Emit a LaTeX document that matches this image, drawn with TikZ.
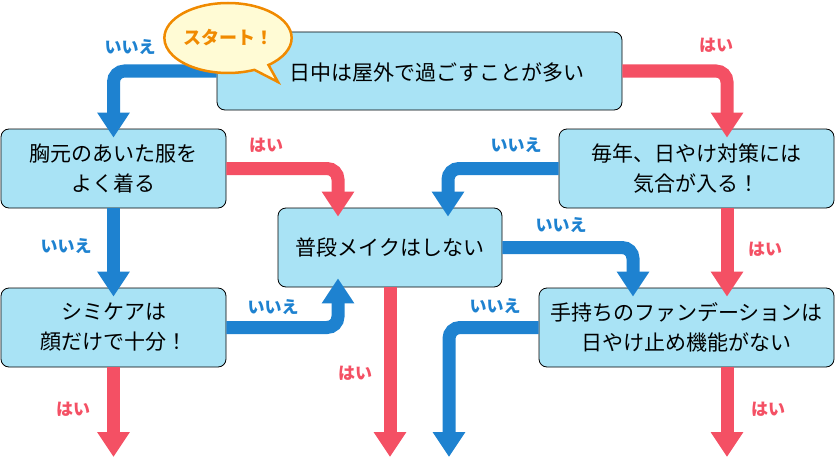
\documentclass[tikz,border=0pt]{standalone}
\usepackage{fontspec}
\newfontfamily\jp{Noto Sans CJK JP}
\usetikzlibrary{arrows.meta,shapes.callouts}
\definecolor{boxblue}{HTML}{A9E3F5}
\definecolor{noblue}{HTML}{1E82D0}
\definecolor{yesred}{HTML}{F45064}
\definecolor{startorange}{HTML}{F08A00}
\definecolor{startfill}{HTML}{FFFBD5}

\begin{document}
\begin{tikzpicture}[x=1pt,y=-1pt,inner sep=0pt,
  box/.style={draw=black,line width=0.8pt,fill=boxblue,rounded corners=8pt,
    align=center,font=\jp\fontsize{21}{30}\selectfont},
  yesline/.style={draw=yesred,line width=13pt,rounded corners=11pt,
    -{Triangle[width=31pt,length=25pt]}},
  noline/.style={draw=noblue,line width=13pt,rounded corners=11pt,
    -{Triangle[width=31pt,length=25pt]}},
  into/.style={shorten >=-9pt},
  yeslab/.style={text=yesred,font=\jp\bfseries\fontsize{17}{17}\selectfont},
  nolab/.style={text=noblue,font=\jp\bfseries\fontsize{17}{17}\selectfont}]
\useasboundingbox (0,0) rectangle (835,460);

% question boxes
\node at (419.5,71) [box,minimum width=405pt,minimum height=78pt] (q1) {};
\node at (437,72) [font=\jp\fontsize{21}{30}\selectfont] (q1text) {日中は屋外で過ごすことが多い};
\node at (113.5,168.5) [box,minimum width=225pt,minimum height=79pt] (q2) {胸元のあいた服を\\よく着る};
\node at (390,247.5) [box,minimum width=224pt,minimum height=79pt] (q3) {普段メイクはしない};
\node at (696.5,168.5) [box,minimum width=275pt,minimum height=79pt] (q4) {毎年、日やけ対策には\\気合が入る！};
\node at (113.5,327.5) [box,minimum width=225pt,minimum height=79pt] (q5) {シミケアは\\顔だけで十分！};
\node at (686.5,327.5) [box,minimum width=295pt,minimum height=79pt] (q6) {手持ちのファンデーションは\\日やけ止め機能がない};

% columns and loose ends
\coordinate (cA) at (338,0);
\coordinate (cB) at (448,0);
\coordinate (cC) at (633,0);
\coordinate (cD) at (727,0);
\coordinate (out1) at (113.5,457);
\coordinate (out2) at (390,457);
\coordinate (out3) at (449,457);
\coordinate (out4) at (727,457);

% arrows
\draw[noline,into] (q1.west) -| (q2.north);
\draw[yesline,into] (q1.east) -| (cD |- q4.north);
\draw[yesline,into] (q2.east) -| (cA |- q3.north);
\draw[noline,into] (q2.south) -- (q5.north);
\draw[noline,into] (q4.west) -| (cB |- q3.north);
\draw[yesline,into] (cD |- q4.south) -- (cD |- q6.north);
\draw[noline,into] (q3.east) -| (cC |- q6.north);
\draw[noline,into] (q5.east) -| (cA |- q3.south);
\draw[yesline] (q3.south) -- (out2);
\draw[noline] (q6.west) -| (out3);
\draw[yesline] (q5.south) -- (out1);
\draw[yesline] (cD |- q6.south) -- (out4);

% answers
\node at (130,47) [nolab] (n1) {いいえ};
\node at (716,45) [yeslab] (y1) {はい};
\node at (266,145) [yeslab] (y2) {はい};
\node at (66,246) [nolab] (n2) {いいえ};
\node at (516,145) [nolab] (n3) {いいえ};
\node at (765,249) [yeslab] (y3) {はい};
\node at (561,225) [nolab] (n4) {いいえ};
\node at (273,307) [nolab] (n5) {いいえ};
\node at (495,306) [nolab] (n6) {いいえ};
\node at (355,373) [yeslab] (y4) {はい};
\node at (73,409) [yeslab] (y5) {はい};
\node at (768,409) [yeslab] (y6) {はい};

% start bubble
\node at (228,38) [ellipse callout,callout absolute pointer={(278,82)},
  draw=startorange,line width=2.5pt,fill=startfill,
  minimum width=112pt,minimum height=70pt,
  text=startorange,font=\jp\bfseries\fontsize{18}{18}\selectfont] (start) {スタート！};

\end{tikzpicture}
\end{document}
